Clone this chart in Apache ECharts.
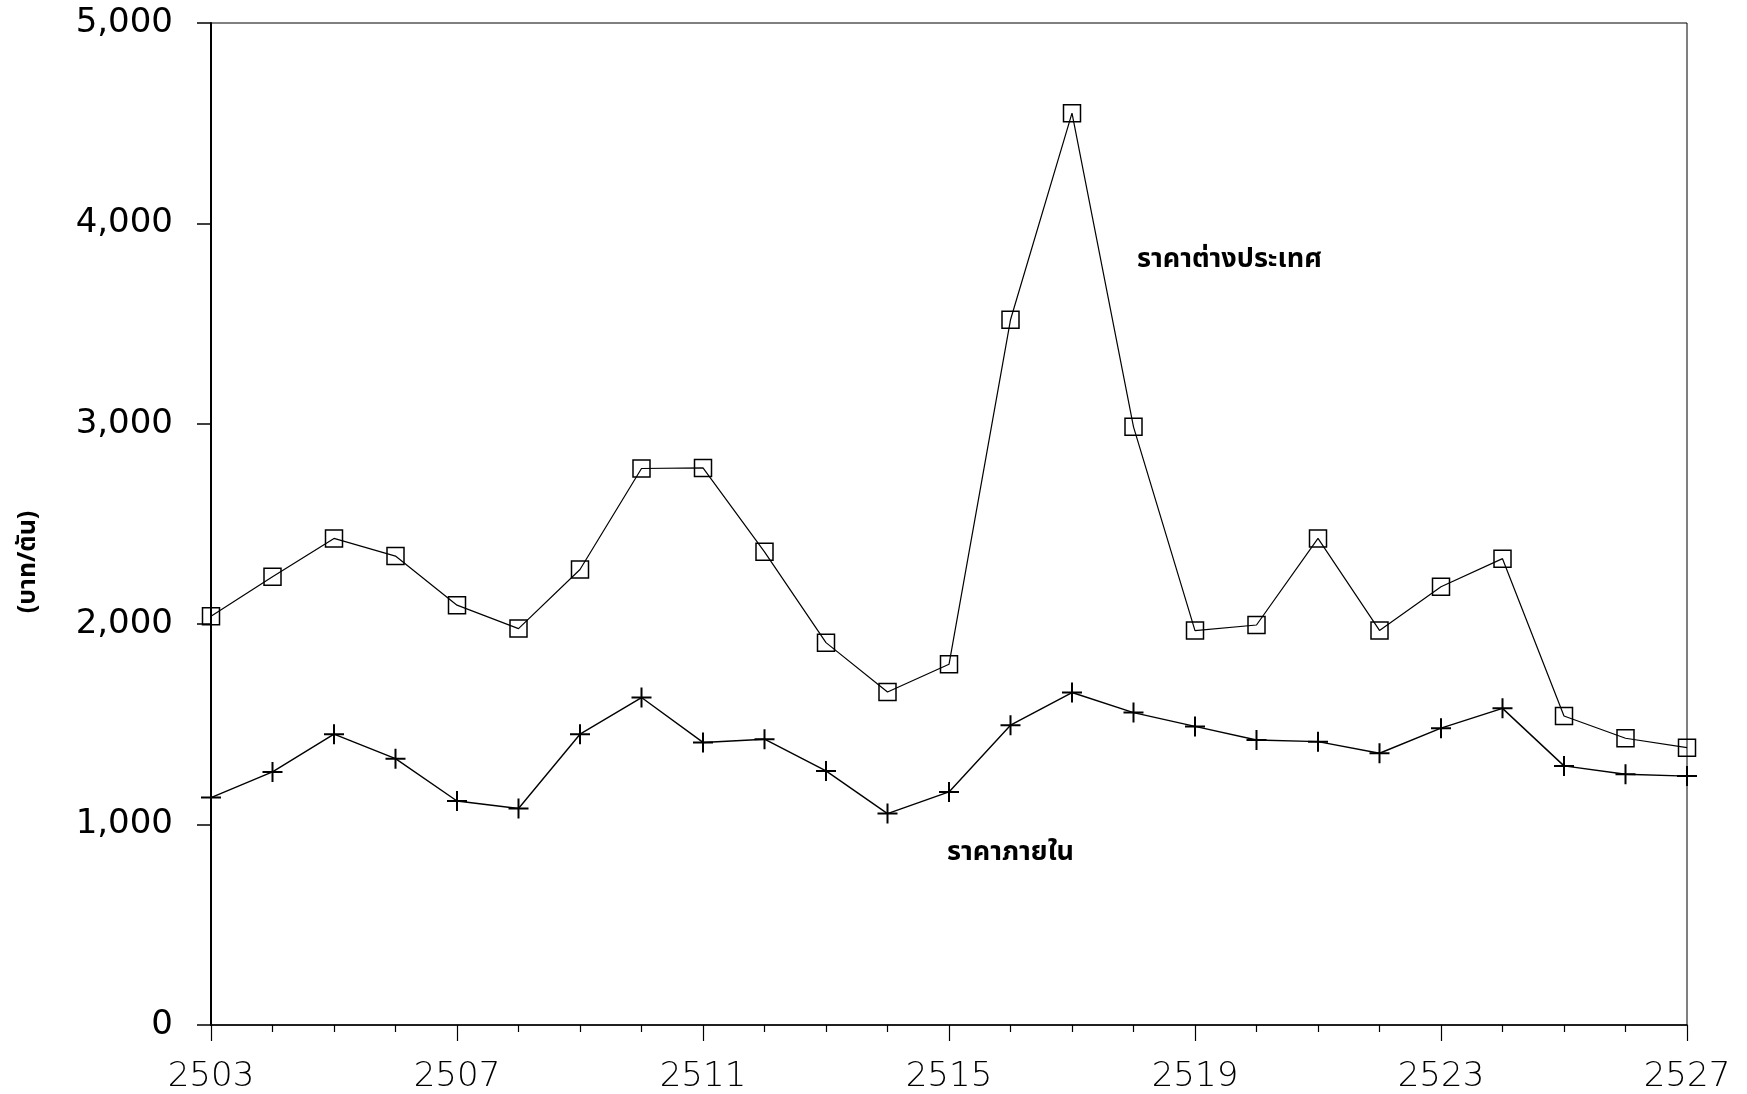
<!DOCTYPE html>
<html>
<head>
<meta charset="utf-8">
<script src="https://cdn.jsdelivr.net/npm/echarts@6/dist/echarts.min.js"></script>
<style>
html,body{margin:0;padding:0;background:#fff;}
#chart{width:1747px;height:1094px;}
</style>
</head>
<body>
<div id="chart"></div>
<script>
const years = [2503,2504,2505,2506,2507,2508,2509,2510,2511,2512,2513,2514,2515,2516,2517,2518,2519,2520,2521,2522,2523,2524,2525,2526,2527];
const foreignPrice = [2040,2237,2428,2340,2095,1978,2273,2777,2780,2361,1908,1662,1800,3519,4550,2985,1968,1996,2428,1969,2187,2327,1542,1431,1384];
const domesticPrice = [1135,1263,1451,1329,1118,1080,1451,1634,1410,1426,1268,1055,1163,1496,1659,1559,1490,1422,1414,1356,1481,1580,1293,1251,1242];
const yTicks = [0,1000,2000,3000,4000,5000];
const xTicks = [2503,2507,2511,2515,2519,2523,2527];
const seriesNames = ['ราคาต่างประเทศ','ราคาภายใน'];
const yTitle = '(บาท/ตัน)';

const thaiFont = '"Noto Sans Thai","Loma","Garuda","Norasi","Noto Sans",sans-serif';
const plusPath = 'path://M9,0h2v9h9v2h-9v9h-2v-9h-9v-2h9z';

const chart = echarts.init(document.getElementById('chart'));
chart.setOption({
  animation: false,
  backgroundColor: '#fff',
  grid: {left: 211, right: 60, top: 23, bottom: 68, show: true, borderColor: '#000', borderWidth: 1},
  xAxis: {
    type: 'value', min: xTicks[0], max: xTicks[xTicks.length-1], interval: 4,
    axisLine: {lineStyle: {color: '#000', width: 1.5}},
    axisTick: {length: 16, lineStyle: {color: '#000', width: 1.2}},
    minorTick: {show: true, splitNumber: 4, length: 7, lineStyle: {color: '#000', width: 1.2}},
    splitLine: {show: false},
    axisLabel: {fontSize: 34, color: '#000', fontFamily: 'DejaVu Sans', fontWeight: 'lighter', margin: 35,
      formatter: v => String(v)}
  },
  yAxis: {
    type: 'value', min: yTicks[0], max: yTicks[yTicks.length-1], interval: 1000,
    axisLine: {lineStyle: {color: '#000', width: 2}},
    axisTick: {length: 14, lineStyle: {color: '#000', width: 1.5}},
    splitLine: {show: false},
    axisLabel: {fontSize: 34, color: '#000', fontFamily: 'DejaVu Sans', margin: 38,
      formatter: v => v.toLocaleString('en-US')}
  },
  graphic: [
    {type: 'text', x: 30, y: 562, rotation: Math.PI / 2,
      style: {text: yTitle, font: 'bold 25px ' + thaiFont, fill: '#000', textAlign: 'center', textVerticalAlign: 'middle'}},
    {type: 'text', left: 1137, top: 248, style: {text: seriesNames[0], font: 'bold 27px ' + thaiFont, fill: '#000'}},
    {type: 'text', left: 947, top: 841, style: {text: seriesNames[1], font: 'bold 27px ' + thaiFont, fill: '#000'}}
  ],
  series: [
    {
      name: seriesNames[0], type: 'line', clip: false,
      data: years.map((y, i) => [y, foreignPrice[i]]),
      symbol: 'rect', symbolSize: 17,
      lineStyle: {color: '#000', width: 1.2},
      itemStyle: {color: 'rgba(255,255,255,0)', borderColor: '#000', borderWidth: 1.5}
    },
    {
      name: seriesNames[1], type: 'line', clip: false,
      data: years.map((y, i) => [y, domesticPrice[i]]),
      symbol: plusPath, symbolSize: 20,
      lineStyle: {color: '#000', width: 1.4},
      itemStyle: {color: '#000'}
    }
  ]
});
</script>
</body>
</html>
